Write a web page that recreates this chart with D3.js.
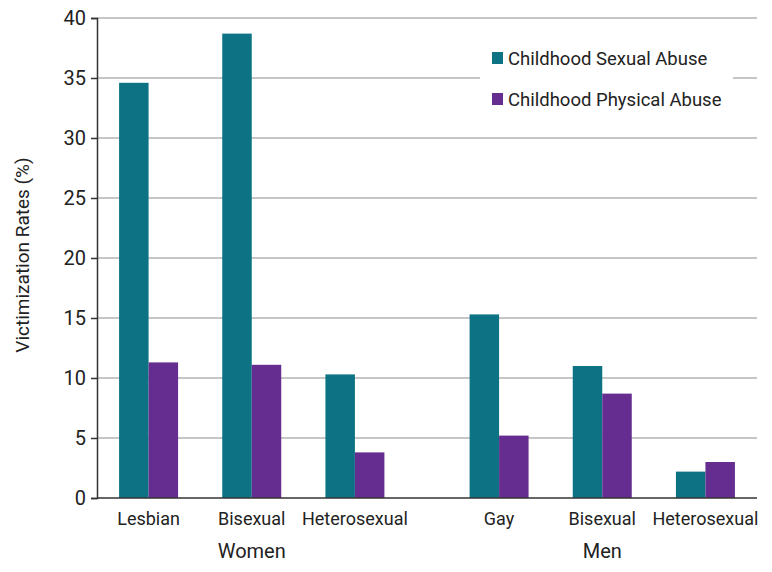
<!DOCTYPE html>
<html>
<head>
<meta charset="utf-8">
<script src="https://cdn.jsdelivr.net/npm/d3@7"></script>
<style>
  body { margin: 0; background: #fff; }
  text { font-family: Roboto, "Liberation Sans", sans-serif; fill: #222; }
</style>
</head>
<body>
<script>
// data
const genders = ['Women', 'Men']
const orientations = {
    Women: ['Lesbian', 'Bisexual', 'Heterosexual'],
    Men: ['Gay', 'Bisexual', 'Heterosexual']
}
const seriesNames = ['Childhood Sexual Abuse', 'Childhood Physical Abuse']
const sexualAbuse = {
    Women: [34.6, 38.7, 10.3],
    Men: [15.3, 11.0, 2.2]
}
const physicalAbuse = {
    Women: [11.3, 11.1, 3.8],
    Men: [5.2, 8.7, 3.0]
}
const yTicks = [0, 5, 10, 15, 20, 25, 30, 35, 40]
const colors = ['#0d7384', '#662d91']

let w = 772, h = 572
let margin = {left: 97, right: 15, top: 18, bottom: 74}

let svg = d3.select('body').append('svg')
    .attr('width', w)
    .attr('height', h)

let y = d3.scaleLinear().domain([0, 40]).range([h - margin.bottom, margin.top])

let xGender = d3.scaleBand()
    .domain(genders)
    .range([margin.left, w - margin.right])
    .paddingInner(0.117)

// grid lines
svg.append('g')
    .selectAll('line')
    .data(yTicks.filter(d => d > 0))
    .enter()
    .append('line')
    .attr('x1', margin.left)
    .attr('x2', w - margin.right)
    .attr('y1', d => y(d))
    .attr('y2', d => y(d))
    .attr('stroke', '#b3b3b3')
    .attr('stroke-width', 1.3)

// bars
genders.forEach(g => {
    let x0 = xGender(g)
    let xCat = d3.scaleBand()
        .domain(orientations[g])
        .range([x0, x0 + xGender.bandwidth()])

    let rows = orientations[g].map((name, i) => ({
        name: name,
        values: [sexualAbuse[g][i], physicalAbuse[g][i]]
    }))

    let grp = svg.append('g')
        .selectAll('g')
        .data(rows)
        .enter()
        .append('g')

    grp.each(function (d) {
        let c = xCat(d.name) + xCat.bandwidth() / 2
        let xSeries = d3.scaleBand().domain(seriesNames).range([c - 29.5, c + 29.5])
        d3.select(this).selectAll('rect')
            .data(seriesNames.map((s, i) => ({s: s, v: d.values[i], i: i})))
            .enter()
            .append('rect')
            .attr('x', e => xSeries(e.s))
            .attr('width', xSeries.bandwidth())
            .attr('y', e => y(e.v))
            .attr('height', e => y(0) - y(e.v))
            .attr('fill', e => colors[e.i])
    })

    // category labels
    svg.append('g')
        .selectAll('text')
        .data(orientations[g])
        .enter()
        .append('text')
        .attr('x', d => xCat(d) + xCat.bandwidth() / 2)
        .attr('y', h - margin.bottom + 27)
        .attr('text-anchor', 'middle')
        .style('font-size', '18px')
        .text(d => d)

    svg.append('text')
        .attr('x', x0 + xGender.bandwidth() / 2)
        .attr('y', h - margin.bottom + 60)
        .attr('text-anchor', 'middle')
        .style('font-size', '20px')
        .text(g)
})

// axes
let yAxis = d3.axisLeft(y).tickValues(yTicks).tickSize(6).tickPadding(5)
let ya = svg.append('g')
    .attr('transform', 'translate(' + margin.left + ',0)')
    .call(yAxis)
ya.select('.domain').attr('stroke', '#333').attr('stroke-width', 1.5)
ya.selectAll('.tick line').attr('stroke', '#333').attr('stroke-width', 1.5)
ya.selectAll('.tick text').style('font-size', '20px').attr('fill', '#222')

svg.append('line')
    .attr('x1', margin.left)
    .attr('x2', w - margin.right)
    .attr('y1', y(0))
    .attr('y2', y(0))
    .attr('stroke', '#333')
    .attr('stroke-width', 1.5)

svg.append('text')
    .attr('transform', 'translate(29,' + (y(20) - 3) + ') rotate(-90)')
    .attr('text-anchor', 'middle')
    .style('font-size', '19px')
    .text('Victimization Rates (%)')

// legend
let legend = svg.append('g').attr('transform', 'translate(480,40)')
legend.append('rect')
    .attr('width', 253)
    .attr('height', 70)
    .attr('fill', '#fff')

let legendItem = legend.selectAll('g')
    .data(seriesNames)
    .enter()
    .append('g')
    .attr('transform', (d, i) => 'translate(12,' + (12 + i * 41) + ')')

legendItem.append('rect')
    .attr('width', 11)
    .attr('height', 12)
    .attr('fill', (d, i) => colors[i])

legendItem.append('text')
    .attr('x', 16)
    .attr('y', 13)
    .style('font-size', '18.5px')
    .text(d => d)
</script>
</body>
</html>
